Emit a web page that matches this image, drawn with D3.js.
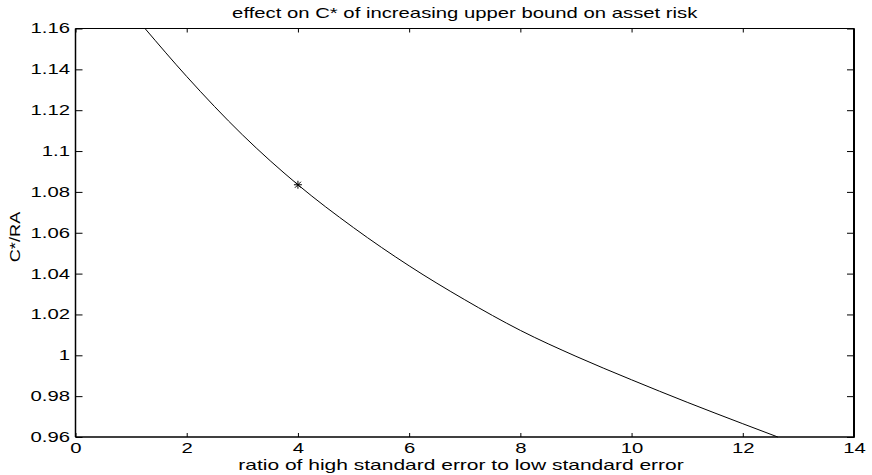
<!DOCTYPE html>
<html>
<head>
<meta charset="utf-8">
<script src="https://cdn.jsdelivr.net/npm/d3@7"></script>
<style>
  html, body { margin: 0; padding: 0; background: #fff; }
  svg { display: block; }
  text { font-family: "Liberation Sans", Arial, Helvetica, sans-serif; fill: #000; }
</style>
</head>
<body>
<svg id="chart" width="872" height="475"></svg>
<script>
// ---- data ----
const ratio = [1.25, 2, 3, 4, 5, 6, 7, 8, 9, 10, 11, 12, 12.63];
const cStarOverRA = [1.160, 1.1365, 1.108, 1.0835, 1.0625, 1.0438, 1.0272, 1.0122, 0.9995, 0.988, 0.977, 0.9665, 0.960];
const markerX = [4];
const markerY = [1.0835];
const xTicks = [0, 2, 4, 6, 8, 10, 12, 14];
const yTicks = [0.96, 0.98, 1, 1.02, 1.04, 1.06, 1.08, 1.1, 1.12, 1.14, 1.16];
const titleText = "effect on C* of increasing upper bound on asset risk";
const xLabel = "ratio of high standard error to low standard error";
const yLabel = "C*/RA";

// ---- layout ----
const svg = d3.select("#chart");
const L = 75.5, R = 854, T = 28.5, B = 437;
const x = d3.scaleLinear().domain([0, 14]).range([L, R]);
const y = d3.scaleLinear().domain([0.96, 1.16]).range([B, T]);
const fs = 14;
const sx = 1.45; // horizontal stretch of the reference's wide Helvetica

const xb = d3.axisBottom(x).tickValues(xTicks).tickSize(-4).tickPadding(6).tickFormat(d3.format("d"));
const xt = d3.axisTop(x).tickValues(xTicks).tickSize(-4).tickFormat("");
const yl = d3.axisLeft(y).tickValues(yTicks).tickSize(-7).tickPadding(5).tickFormat(d => String(+d.toFixed(2)));
const yr = d3.axisRight(y).tickValues(yTicks).tickSize(-7).tickFormat("");

function style(g) {
  g.select(".domain").remove();
  g.selectAll(".tick line").attr("stroke", "#000").attr("stroke-width", 1);
  g.selectAll("text").attr("font-size", fs).attr("fill", "#000")
    .style("font-family", '"Liberation Sans", Arial, sans-serif');
}
svg.append("g").attr("transform", `translate(0,${B})`).call(xb).call(style)
  .selectAll(".tick text").attr("transform", `scale(${sx},1)`);
svg.append("g").attr("transform", `translate(0,${T})`).call(xt).call(style);
svg.append("g").attr("transform", `translate(${L},0)`).call(yl).call(style)
  .selectAll(".tick text").attr("x", -5.5 / sx).attr("transform", `scale(${sx},1)`);
svg.append("g").attr("transform", `translate(${R},0)`).call(yr).call(style);

// box
svg.append("line").attr("x1", L).attr("x2", R).attr("y1", T).attr("y2", T).attr("stroke", "#000").attr("stroke-width", 1);
svg.append("line").attr("x1", L).attr("x2", R).attr("y1", B).attr("y2", B).attr("stroke", "#000").attr("stroke-width", 1.5);
svg.append("line").attr("x1", L).attr("x2", L).attr("y1", T).attr("y2", B).attr("stroke", "#000").attr("stroke-width", 1.5);
svg.append("line").attr("x1", R).attr("x2", R).attr("y1", T).attr("y2", B + 0.75).attr("stroke", "#000").attr("stroke-width", 2);

// curve
const pts = ratio.map((d, i) => [d, cStarOverRA[i]]);
svg.append("path")
  .datum(pts)
  .attr("fill", "none")
  .attr("stroke", "#000")
  .attr("stroke-width", 1)
  .attr("d", d3.line().x(d => x(d[0])).y(d => y(d[1])).curve(d3.curveMonotoneX));

// star marker
const s = 4;
markerX.forEach((mx, i) => {
  const cx = x(mx), cy = y(markerY[i]);
  const g = svg.append("g").attr("stroke", "#000").attr("stroke-width", 1);
  g.append("line").attr("x1", cx - s).attr("x2", cx + s).attr("y1", cy).attr("y2", cy);
  g.append("line").attr("x1", cx).attr("x2", cx).attr("y1", cy - s).attr("y2", cy + s);
  g.append("line").attr("x1", cx - s * 0.75).attr("x2", cx + s * 0.75).attr("y1", cy - s * 0.75).attr("y2", cy + s * 0.75);
  g.append("line").attr("x1", cx - s * 0.75).attr("x2", cx + s * 0.75).attr("y1", cy + s * 0.75).attr("y2", cy - s * 0.75);
});

// texts
svg.append("text").attr("transform", `translate(${(L + R) / 2},18) scale(${sx},1)`)
  .attr("text-anchor", "middle").attr("font-size", fs).text(titleText);
svg.append("text").attr("transform", `translate(461,470) scale(1.5,1)`)
  .attr("text-anchor", "middle").attr("font-size", fs).text(xLabel);
svg.append("text").attr("transform", `translate(20,237) rotate(-90) scale(1.3,1)`)
  .attr("text-anchor", "middle").attr("font-size", fs).text(yLabel);
</script>
</body>
</html>
